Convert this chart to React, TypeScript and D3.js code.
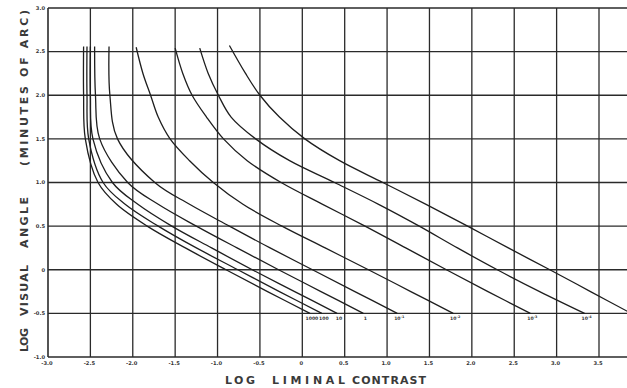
import React, { useEffect, useRef } from 'react';
import * as d3 from 'd3';

// Log liminal contrast vs log visual angle, one curve per background luminance

const xTicks = [-3.0, -2.5, -2.0, -1.5, -1.0, -0.5, 0, 0.5, 1.0, 1.5, 2.0, 2.5, 3.0, 3.5];
const xTickLabels = ['-3.0', '-2.5', '-2.0', '-1.5', '-1.0', '-0.5', '0', '0.5', '1.0', '1.5', '2.0', '2.5', '3.0', '3.5'];
const yTicks = [3.0, 2.5, 2.0, 1.5, 1.0, 0.5, 0, -0.5, -1.0];
const yTickLabels = ['3.0', '2.5', '2.0', '1.5', '1.0', '0.5', '0', '-0.5', '-1.0'];

// [log contrast, log visual angle]
const curve1000 = [[-2.58, 2.56], [-2.58, 2.0], [-2.56, 1.5], [-2.41, 1.0], [-2.19, 0.75], [-1.83, 0.5], [-1.38, 0.25], [-0.90, 0], [-0.41, -0.25], [0.09, -0.5]];
const curve100 = [[-2.54, 2.56], [-2.54, 2.0], [-2.52, 1.5], [-2.35, 1.0], [-2.09, 0.75], [-1.70, 0.5], [-1.25, 0.25], [-0.76, 0], [-0.27, -0.25], [0.23, -0.5]];
const curve10 = [[-2.50, 2.56], [-2.50, 2.0], [-2.47, 1.5], [-2.24, 1.0], [-1.94, 0.75], [-1.54, 0.5], [-1.07, 0.25], [-0.59, 0], [-0.09, -0.25], [0.41, -0.5]];
const curve1 = [[-2.45, 2.56], [-2.44, 2.0], [-2.39, 1.5], [-2.06, 1.0], [-1.70, 0.75], [-1.25, 0.5], [-0.77, 0.25], [-0.28, 0], [0.22, -0.25], [0.72, -0.5]];
const curveM1 = [[-2.28, 2.56], [-2.27, 2.0], [-2.18, 1.5], [-1.74, 1.0], [-1.33, 0.75], [-0.86, 0.5], [-0.38, 0.25], [0.12, 0], [0.62, -0.25], [1.12, -0.5]];
const curveM2 = [[-1.96, 2.55], [-1.88, 2.25], [-1.79, 2.0], [-1.70, 1.75], [-1.56, 1.5], [-1.33, 1.25], [-1.05, 1.0], [-0.70, 0.75], [-0.24, 0.5], [0.27, 0.25], [0.78, 0], [1.28, -0.25], [1.78, -0.5]];
const curveM3 = [[-1.50, 2.54], [-1.41, 2.25], [-1.30, 2.0], [-1.13, 1.75], [-0.93, 1.5], [-0.65, 1.25], [-0.25, 1.0], [0.24, 0.75], [0.74, 0.5], [1.22, 0.25], [1.70, 0], [2.19, -0.25], [2.69, -0.5]];
const curveM4 = [[-1.21, 2.54], [-1.11, 2.25], [-0.99, 2.0], [-0.84, 1.75], [-0.55, 1.5], [-0.15, 1.25], [0.38, 1.0], [0.90, 0.75], [1.38, 0.5], [1.83, 0.25], [2.30, 0], [2.80, -0.25], [3.33, -0.5]];
const curveM5 = [[-0.86, 2.57], [-0.67, 2.25], [-0.50, 2.0], [-0.27, 1.75], [0.03, 1.5], [0.44, 1.25], [0.95, 1.0], [1.46, 0.75], [1.95, 0.5], [2.43, 0.25], [2.92, 0], [3.40, -0.25], [3.88, -0.5]];

const curves = [curve1000, curve100, curve10, curve1, curveM1, curveM2, curveM3, curveM4, curveM5];
const curveLabels = ['1000', '100', '10', '1', '10', '10', '10', '10', ''];
const curveExponents = ['', '', '', '', '-1', '-2', '-3', '-4', ''];

const App = () => {
  const svgRef = useRef<SVGSVGElement>(null);

  useEffect(() => {
    const svg = d3.select(svgRef.current);
    svg.selectAll('*').remove();

    const width = 627;
    const height = 388;
    const ink = '#2a2a2a';
    const font = '"DejaVu Sans", sans-serif';

    svg.attr('width', width).attr('height', height);

    const x = d3.scaleLinear().domain([-3, 3.5]).range([48, 599]);
    const y = d3.scaleLinear().domain([-1, 3]).range([357, 8]);

    svg.append('rect').attr('width', width).attr('height', height).attr('fill', '#fff');

    const grid = svg.append('g').attr('stroke', ink).attr('fill', 'none');

    // vertical grid lines (the first one is the axis)
    grid.selectAll('line.v')
      .data(xTicks)
      .enter().append('line')
      .attr('class', 'v')
      .attr('x1', d => x(d)).attr('x2', d => x(d))
      .attr('y1', y(3)).attr('y2', y(-1))
      .attr('stroke-width', (d, i) => (i === 0 ? 1.6 : 1.3));

    // horizontal grid lines run to the right edge of the sheet
    grid.selectAll('line.h')
      .data(yTicks)
      .enter().append('line')
      .attr('class', 'h')
      .attr('x1', x(-3)).attr('x2', width)
      .attr('y1', d => y(d)).attr('y2', d => y(d))
      .attr('stroke-width', (d, i) => (i === 0 || i === yTicks.length - 1 ? 1.6 : 1.3));

    // tick labels
    svg.append('g')
      .selectAll('text')
      .data(yTicks)
      .enter().append('text')
      .attr('x', x(-3) - 3)
      .attr('y', d => y(d))
      .attr('dy', '0.35em')
      .attr('text-anchor', 'end')
      .attr('font-family', font)
      .attr('font-size', 5.2)
      .attr('font-weight', 'bold')
      .attr('fill', '#333')
      .text((d, i) => yTickLabels[i]);

    svg.append('g')
      .selectAll('text')
      .data(xTicks)
      .enter().append('text')
      .attr('x', d => x(d) - 1)
      .attr('y', y(-1) + 8)
      .attr('text-anchor', 'middle')
      .attr('font-family', font)
      .attr('font-size', 5.2)
      .attr('font-weight', 'bold')
      .attr('fill', '#333')
      .text((d, i) => xTickLabels[i]);

    // curves
    const line = d3.line<number[]>()
      .x(d => x(d[0]))
      .y(d => y(d[1]))
      .curve(d3.curveCatmullRom.alpha(0.5));

    svg.append('g')
      .selectAll('path')
      .data(curves)
      .enter().append('path')
      .attr('d', d => line(d))
      .attr('fill', 'none')
      .attr('stroke', '#1e1e1e')
      .attr('stroke-width', 1.3);

    // curve labels under the end of each curve
    const labels = svg.append('g')
      .selectAll('text')
      .data(curves)
      .enter().append('text')
      .attr('x', d => x(d[d.length - 1][0]) + 2)
      .attr('y', y(-0.5) + 7)
      .attr('text-anchor', 'middle')
      .attr('font-family', font)
      .attr('font-size', 4.6)
      .attr('font-weight', 'bold')
      .attr('fill', '#333');
    labels.append('tspan').text((d, i) => curveLabels[i]);
    labels.append('tspan')
      .attr('dy', -2)
      .attr('font-size', 3.4)
      .text((d, i) => curveExponents[i]);

    // axis titles
    const xWords = [['LOG', 225, 30], ['LIMINAL', 272, 73], ['CONTRAST', 352, 74]];
    xWords.forEach(([word, start, len]) => {
      svg.append('text')
        .attr('x', start as number)
        .attr('y', 384)
        .attr('textLength', len as number)
        .attr('lengthAdjust', 'spacing')
        .attr('font-family', font)
        .attr('font-size', 11)
        .attr('font-weight', 'bold')
        .attr('fill', '#3a3a3a')
        .text(word as string);
    });

    const yWords = [['LOG', 352, 24], ['VISUAL', 316, 51], ['ANGLE', 248, 51], ['(MINUTES OF ARC)', 166, 156]];
    yWords.forEach(([word, start, len]) => {
      svg.append('text')
        .attr('transform', `translate(28,${start}) rotate(-90)`)
        .attr('textLength', len as number)
        .attr('lengthAdjust', 'spacing')
        .attr('font-family', font)
        .attr('font-size', 11)
        .attr('font-weight', 'bold')
        .attr('fill', '#3a3a3a')
        .text(word as string);
    });
  }, []);

  return (
    <div style={{ position: 'absolute', left: 0, top: 0 }}>
      <svg ref={svgRef} style={{ display: 'block' }}></svg>
    </div>
  );
};

export default App;
